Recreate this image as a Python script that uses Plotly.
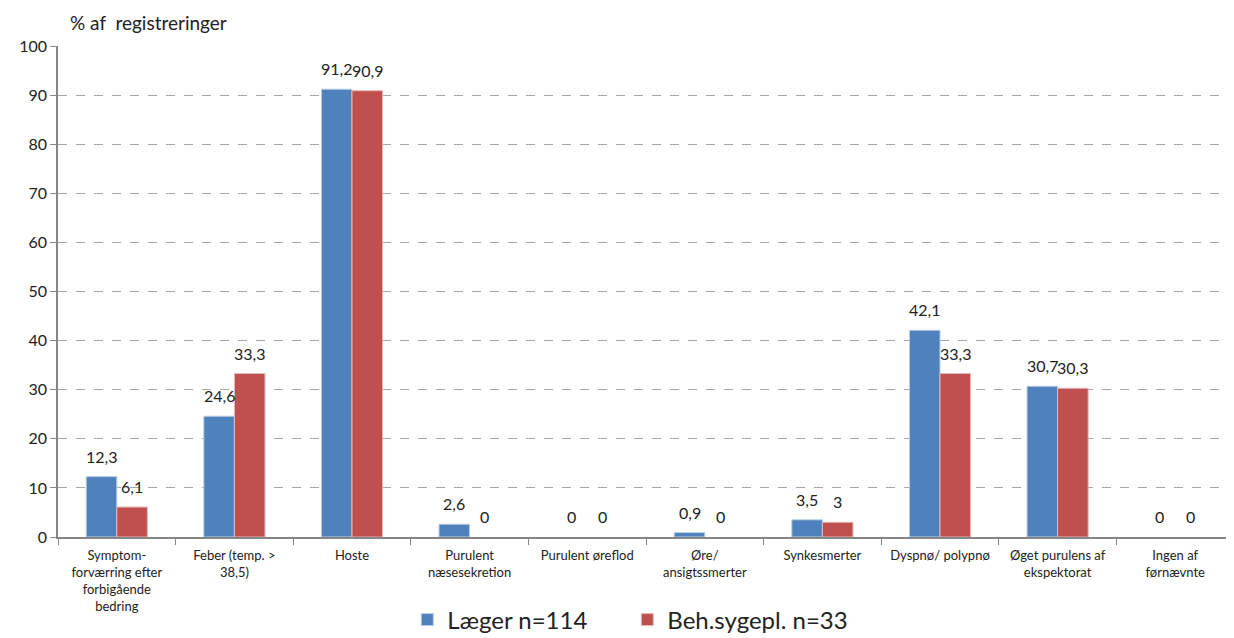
import plotly.graph_objects as go

categories = [
    "Symptom-<br>forværring efter<br>forbigående<br>bedring",
    "Feber (temp. ><br>38,5)",
    "Hoste",
    "Purulent<br>næsesekretion",
    "Purulent øreflod",
    "Øre/<br>ansigtssmerter",
    "Synkesmerter",
    "Dyspnø/ polypnø",
    "Øget purulens af<br>ekspektorat",
    "Ingen af<br>førnævnte",
]
laeger = [12.3, 24.6, 91.2, 2.6, 0, 0.9, 3.5, 42.1, 30.7, 0]
sygepl = [6.1, 33.3, 90.9, 0, 0, 0, 3, 33.3, 30.3, 0]
y_ticks = list(range(0, 101, 10))

FONT = "Lato, Open Sans, sans-serif"
# the page body has an 8px margin, so the figure is drawn 8px in from the corner
OFF = 8
W, H = 1234 - OFF, 638 - OFF
L, R, T, B = 58 - OFF, 0, 46 - OFF, 101
BARGAP = 0.48
plot_w, plot_h = W - L - R, H - T - B
cat_w = plot_w / len(categories)
bar_w = cat_w * (1 - BARGAP) / 2

fig = go.Figure()
fig.add_trace(go.Bar(
    x=categories, y=laeger, name="Læger n=114",
    marker=dict(color="#4F81BD",
                line=dict(color="#B9CDE5", width=[1 if v else 0 for v in laeger])),
))
fig.add_trace(go.Bar(
    x=categories, y=sygepl, name="Beh.sygepl. n=33",
    marker=dict(color="#C0504D",
                line=dict(color="#E6B9B8", width=[1 if v else 0 for v in sygepl])),
))

# value labels, placed over each bar like the Excel data labels
fmt = lambda v: f"{v:g}".replace(".", ",")
for series, dx in ((laeger, -bar_w / 2), (sygepl, bar_w / 2)):
    for cat, v in zip(categories, series):
        fig.add_annotation(x=cat, y=v, text=fmt(v), showarrow=False,
                           xshift=dx, yshift=9, yanchor="bottom",
                           font=dict(size=16, color="#222"))

fig.add_annotation(text="% af  registreringer", xref="paper", yref="paper",
                   x=(68 - 58) / plot_w, xanchor="left",
                   y=1 + (46 - 22) / plot_h, yanchor="middle",
                   showarrow=False, font=dict(size=19, color="#222"))

fig.update_layout(
    width=W, height=H,
    margin=dict(l=L, r=R, t=T, b=B, autoexpand=False),
    paper_bgcolor="white", plot_bgcolor="white",
    font=dict(family=FONT, color="#222"),
    barmode="group", bargap=BARGAP, bargroupgap=0,
    showlegend=True,
    legend=dict(orientation="h", x=0.4841, xanchor="center",
                y=-(620 - 537) / plot_h, yanchor="middle",
                font=dict(size=24), itemwidth=30, entrywidth=175,
                traceorder="normal"),
)

fig.update_xaxes(
    showline=True, linecolor="#868686", linewidth=1.5,
    ticks="outside", tickson="boundaries", ticklen=6, tickcolor="#868686",
    tickfont=dict(size=13), ticklabelstandoff=6, showgrid=False,
)
fig.update_yaxes(
    range=[0, 100], tickvals=y_ticks,
    showline=True, linecolor="#868686", linewidth=1.5,
    ticks="outside", ticklen=6, tickcolor="#868686",
    tickfont=dict(size=16),
    showgrid=True, gridcolor="#A6A6A6", griddash="dash", gridwidth=1.2,
    zeroline=False,
)

fig.write_html("out.html")
